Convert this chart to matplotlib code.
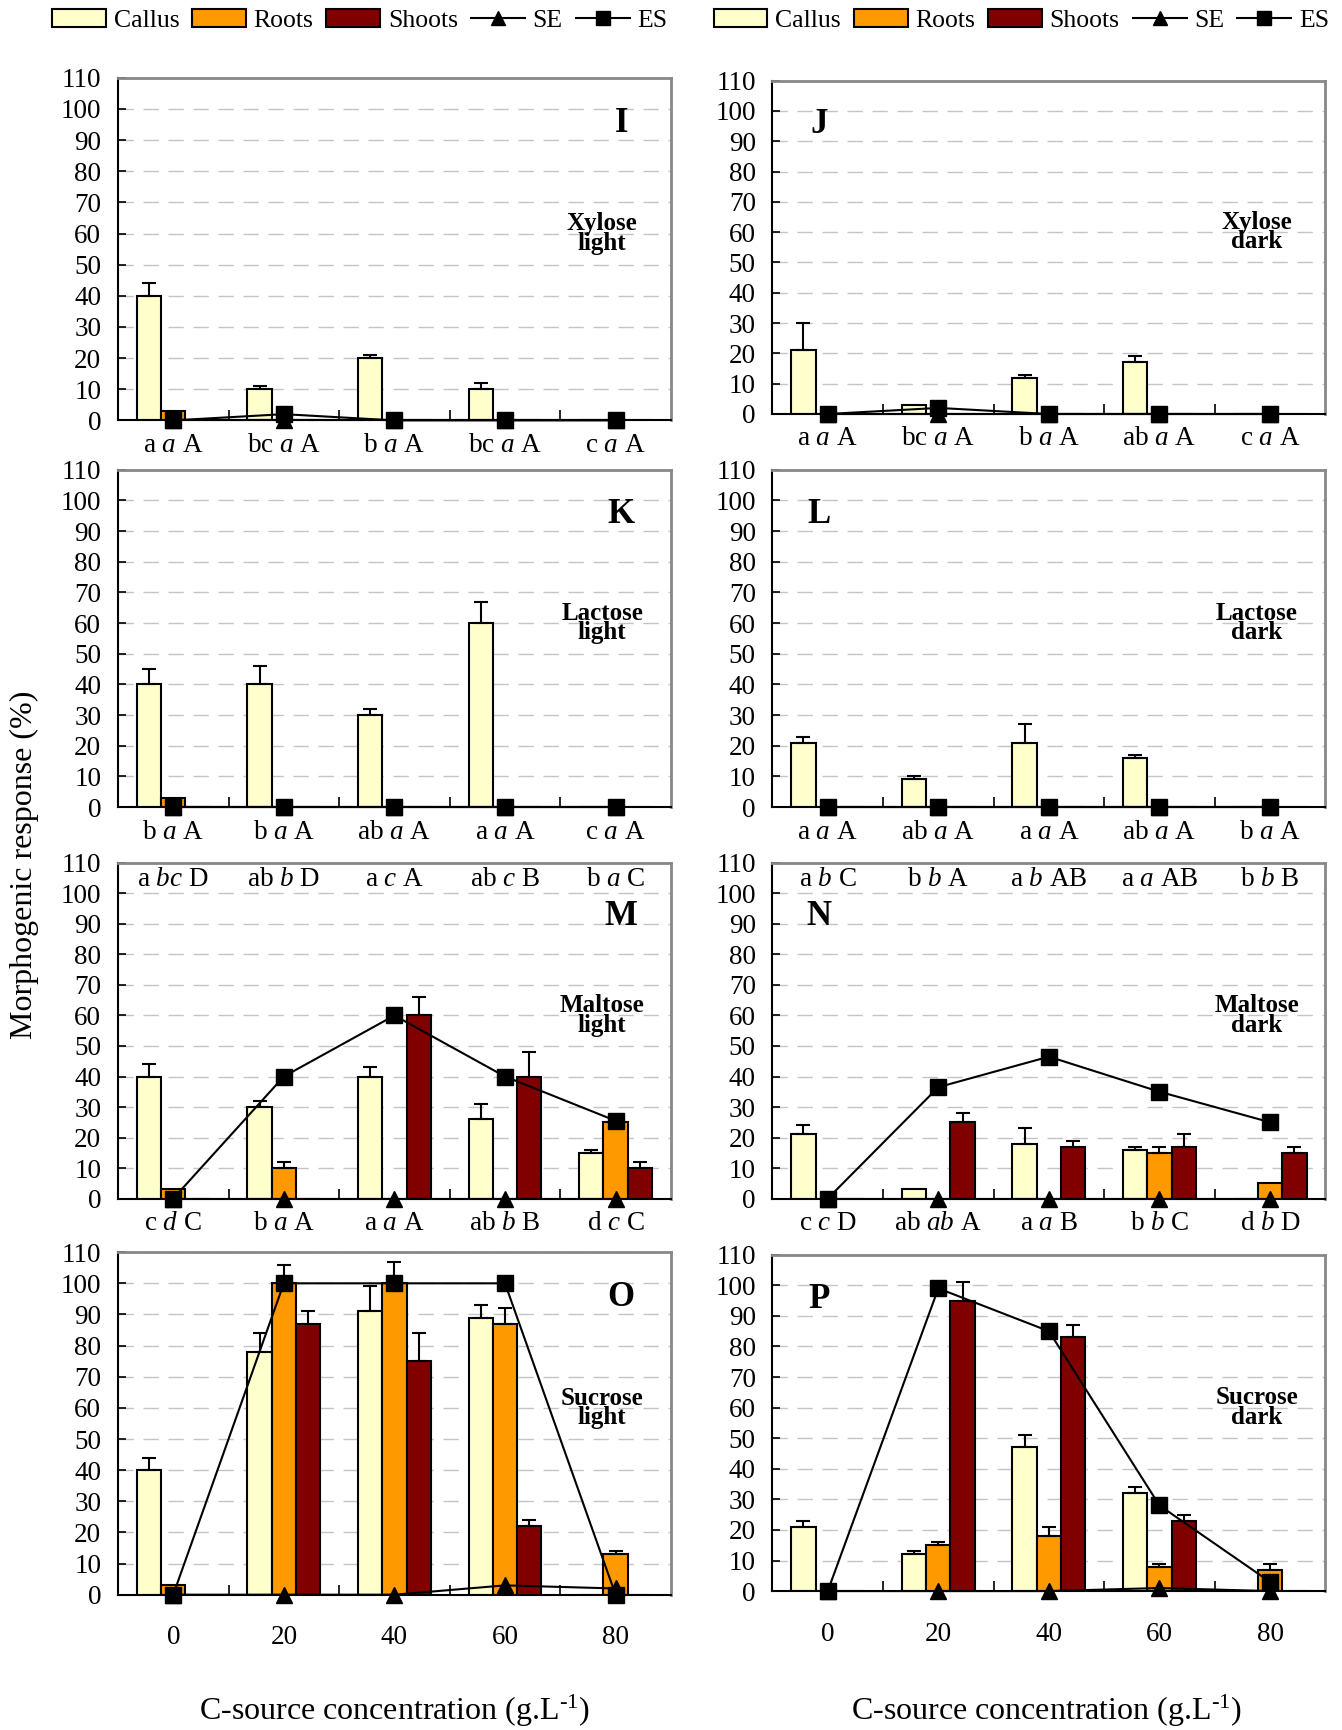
import matplotlib
matplotlib.use("Agg")
import matplotlib.pyplot as plt
import numpy as np
from matplotlib.patches import Patch
from matplotlib.lines import Line2D

plt.rcParams["font.family"] = "Liberation Serif"
plt.rcParams["mathtext.fontset"] = "custom"
plt.rcParams["mathtext.rm"] = "Liberation Serif"
plt.rcParams["mathtext.it"] = "Liberation Serif:italic"
plt.rcParams["mathtext.bf"] = "Liberation Serif:bold"

conc = ["0", "20", "40", "60", "80"]

# I - Xylose light
I_callus = [40, 10, 20, 10, 0]
I_callus_err = [4, 1, 1, 2, 0]
I_roots = [3, 0, 0, 0, 0]
I_roots_err = [0, 0, 0, 0, 0]
I_shoots = [0, 0, 0, 0, 0]
I_shoots_err = [0, 0, 0, 0, 0]
I_se = [0, 0, 0, 0, 0]
I_es = [0, 2, 0, 0, 0]
I_labels = ["a a A", "bc a A", "b a A", "bc a A", "c a A"]

# J - Xylose dark
J_callus = [21, 3, 12, 17, 0]
J_callus_err = [9, 0, 1, 2, 0]
J_roots = [0, 0, 0, 0, 0]
J_roots_err = [0, 0, 0, 0, 0]
J_shoots = [0, 0, 0, 0, 0]
J_shoots_err = [0, 0, 0, 0, 0]
J_se = [0, 0, 0, 0, 0]
J_es = [0, 2, 0, 0, 0]
J_labels = ["a a A", "bc a A", "b a A", "ab a A", "c a A"]

# K - Lactose light
K_callus = [40, 40, 30, 60, 0]
K_callus_err = [5, 6, 2, 7, 0]
K_roots = [3, 0, 0, 0, 0]
K_roots_err = [0, 0, 0, 0, 0]
K_shoots = [0, 0, 0, 0, 0]
K_shoots_err = [0, 0, 0, 0, 0]
K_se = [0, 0, 0, 0, 0]
K_es = [0, 0, 0, 0, 0]
K_labels = ["b a A", "b a A", "ab a A", "a a A", "c a A"]

# L - Lactose dark
L_callus = [21, 9, 21, 16, 0]
L_callus_err = [2, 1, 6, 1, 0]
L_roots = [0, 0, 0, 0, 0]
L_roots_err = [0, 0, 0, 0, 0]
L_shoots = [0, 0, 0, 0, 0]
L_shoots_err = [0, 0, 0, 0, 0]
L_se = [0, 0, 0, 0, 0]
L_es = [0, 0, 0, 0, 0]
L_labels = ["a a A", "ab a A", "a a A", "ab a A", "b a A"]

# M - Maltose light
M_callus = [40, 30, 40, 26, 15]
M_callus_err = [4, 2, 3, 5, 1]
M_roots = [3, 10, 0, 0, 25]
M_roots_err = [0, 2, 0, 0, 0]
M_shoots = [0, 0, 60, 40, 10]
M_shoots_err = [0, 0, 6, 8, 2]
M_se = [0, 0, 0, 0, 0]
M_es = [0, 40, 60, 40, 25.5]
M_labels = ["c d C", "b a A", "a a A", "ab b B", "d c C"]
M_top = ["a bc D", "ab b D", "a c A", "ab c B", "b a C"]

# N - Maltose dark
N_callus = [21, 3, 18, 16, 0]
N_callus_err = [3, 0, 5, 1, 0]
N_roots = [0, 0, 0, 15, 5]
N_roots_err = [0, 0, 0, 2, 0]
N_shoots = [0, 25, 17, 17, 15]
N_shoots_err = [0, 3, 2, 4, 2]
N_se = [0, 0, 0, 0, 0]
N_es = [0, 36.5, 46.5, 35, 25]
N_labels = ["c c D", "ab ab A", "a a B", "b b C", "d b D"]
N_top = ["a b C", "b b A", "a b AB", "a a AB", "b b B"]

# O - Sucrose light
O_callus = [40, 78, 91, 89, 0]
O_callus_err = [4, 6, 8, 4, 0]
O_roots = [3, 100, 100, 87, 13]
O_roots_err = [0, 6, 7, 5, 1]
O_shoots = [0, 87, 75, 22, 0]
O_shoots_err = [0, 4, 9, 2, 0]
O_se = [0, 0, 0, 3, 2]
O_es = [0, 100, 100, 100, 0]

# P - Sucrose dark
P_callus = [21, 12, 47, 32, 0]
P_callus_err = [2, 1, 4, 2, 0]
P_roots = [0, 15, 18, 8, 7]
P_roots_err = [0, 1, 3, 1, 2]
P_shoots = [0, 95, 83, 23, 0]
P_shoots_err = [0, 6, 4, 2, 0]
P_se = [0, 0, 0, 1, 0]
P_es = [0, 99, 85, 28, 3]

c_callus = "#FFFFCC"
c_roots = "#FF9900"
c_shoots = "#800000"


def fmt(s):
    a, b, c = s.split()
    return a + " $\\mathit{" + b + "}$ " + c


def draw(ax, callus, callus_err, roots, roots_err, shoots, shoots_err, se, es):
    x = np.arange(5)
    w = 0.22
    for off, vals, errs, col in [
        (-w, callus, callus_err, c_callus),
        (0, roots, roots_err, c_roots),
        (w, shoots, shoots_err, c_shoots),
    ]:
        vals = np.array(vals, dtype=float)
        errs = np.array(errs, dtype=float)
        ax.bar(x + off, vals, w, color=col, edgecolor="black", linewidth=1.5, zorder=2)
        m = errs > 0
        if m.any():
            ax.errorbar(x[m] + off, vals[m], yerr=[np.zeros(m.sum()), errs[m]],
                        fmt="none", ecolor="black", elinewidth=1.5, capsize=5,
                        capthick=1.5, zorder=2.5)
    ax.plot(x, se, color="black", marker="^", ms=11, lw=1.5, zorder=4, clip_on=False)
    ax.plot(x, es, color="black", marker="s", ms=11, lw=1.5, zorder=5, clip_on=False)

    ax.set_xlim(-0.5, 4.5)
    ax.set_ylim(0, 110)
    ax.set_yticks(range(0, 111, 10))
    ax.set_xticks(x)
    ax.set_xticks([0.5, 1.5, 2.5, 3.5], minor=True)
    ax.tick_params(axis="y", direction="in", length=6, width=1.2, pad=12, labelsize=19.5)
    ax.tick_params(axis="x", which="major", length=0, labelsize=19.5)
    ax.tick_params(axis="x", which="minor", direction="in", length=7, width=1.2)
    ax.set_axisbelow(True)
    ax.yaxis.grid(True, color="#c4c4c4", lw=1, linestyle=(0, (11, 7)))
    for s in ["left", "bottom"]:
        ax.spines[s].set_color("black")
        ax.spines[s].set_linewidth(1.5)
    for s in ["top", "right"]:
        ax.spines[s].set_color("#888888")
        ax.spines[s].set_linewidth(2)


fig = plt.figure(figsize=(13.42, 17.30), dpi=100)

lx, rx, w_ax = 0.0879, 0.5756, 0.412
panels = [
    ("I", [lx, 0.757, w_ax, 0.198], "left", "Xylose\nlight",
     (I_callus, I_callus_err, I_roots, I_roots_err, I_shoots, I_shoots_err, I_se, I_es), I_labels, None),
    ("J", [rx, 0.7607, w_ax, 0.1927], "right", "Xylose\ndark",
     (J_callus, J_callus_err, J_roots, J_roots_err, J_shoots, J_shoots_err, J_se, J_es), J_labels, None),
    ("K", [lx, 0.5335, w_ax, 0.195], "left", "Lactose\nlight",
     (K_callus, K_callus_err, K_roots, K_roots_err, K_shoots, K_shoots_err, K_se, K_es), K_labels, None),
    ("L", [rx, 0.5335, w_ax, 0.195], "right", "Lactose\ndark",
     (L_callus, L_callus_err, L_roots, L_roots_err, L_shoots, L_shoots_err, L_se, L_es), L_labels, None),
    ("M", [lx, 0.3072, w_ax, 0.194], "left", "Maltose\nlight",
     (M_callus, M_callus_err, M_roots, M_roots_err, M_shoots, M_shoots_err, M_se, M_es), M_labels, M_top),
    ("N", [rx, 0.3072, w_ax, 0.194], "right", "Maltose\ndark",
     (N_callus, N_callus_err, N_roots, N_roots_err, N_shoots, N_shoots_err, N_se, N_es), N_labels, N_top),
    ("O", [lx, 0.0782, w_ax, 0.198], "left", "Sucrose\nlight",
     (O_callus, O_callus_err, O_roots, O_roots_err, O_shoots, O_shoots_err, O_se, O_es), None, None),
    ("P", [rx, 0.0803, w_ax, 0.1944], "right", "Sucrose\ndark",
     (P_callus, P_callus_err, P_roots, P_roots_err, P_shoots, P_shoots_err, P_se, P_es), None, None),
]

for letter, pos, side, sub, data, labels, top in panels:
    ax = fig.add_axes(pos)
    draw(ax, *data)
    if labels is not None:
        ax.set_xticklabels([fmt(s) for s in labels])
        ax.tick_params(axis="x", which="major", pad=9)
    else:
        ax.set_xticklabels(conc)
        ax.tick_params(axis="x", which="major", pad=22)
    letter_y = 95.5
    if top is not None:
        letter_y = 92.5
        for i, s in enumerate(top):
            ax.text(i, 104.5, fmt(s), ha="center", va="center", fontsize=19.5)
    lx_letter = 4.05 if side == "left" else -0.08
    ax.text(lx_letter, letter_y, letter, ha="center", va="center", fontsize=25,
            fontweight="bold")
    ax.text(3.88, 60, sub, ha="center", va="center", fontsize=18, fontweight="bold",
            linespacing=0.8)

handles = [
    Patch(facecolor=c_callus, edgecolor="black", linewidth=1.5, label="Callus"),
    Patch(facecolor=c_roots, edgecolor="black", linewidth=1.5, label="Roots"),
    Patch(facecolor=c_shoots, edgecolor="black", linewidth=1.5, label="Shoots"),
    Line2D([], [], color="black", marker="^", ms=10, lw=1.5, label="SE"),
    Line2D([], [], color="black", marker="s", ms=10, lw=1.5, label="ES"),
]
for cx in [0.268, 0.761]:
    fig.legend(handles=handles, loc="center", bbox_to_anchor=(cx, 0.988), ncol=5,
               frameon=False, fontsize=18.5, handlelength=2.1, handleheight=0.65,
               handletextpad=0.3, columnspacing=0.5, borderaxespad=0)

fig.text(0.018, 0.5, "Morphogenic response (%)", rotation=90, ha="center", va="center",
         fontsize=23)
xlab = "C-source concentration (g.L$^{\\text{-1}}$)"
fig.text(0.294, 0.011, xlab, ha="center", va="center", fontsize=23)
fig.text(0.78, 0.011, xlab, ha="center", va="center", fontsize=23)

fig.savefig("out.png", dpi=100)
